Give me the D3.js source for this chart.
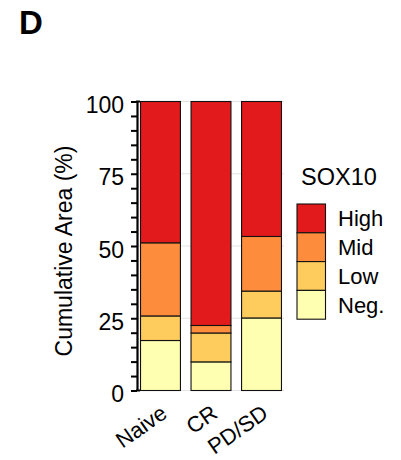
<!DOCTYPE html>
<html>
<head>
<meta charset="utf-8">
<script src="https://cdn.jsdelivr.net/npm/d3@7"></script>
<style>
  html, body { margin: 0; padding: 0; background: #fff; }
  svg text { font-family: "Liberation Sans", Arial, Helvetica, sans-serif; fill: #000; }
</style>
</head>
<body>
<svg id="chart" width="401" height="460"></svg>
<script>
// Groups along the x axis
const groups = ["Naive", "CR", "PD/SD"];
// SOX10 expression classes, bottom to top of each stack
const levels = ["Neg.", "Low", "Mid", "High"];
// Share of area (%) per group for each class
const negValues  = [17.3, 9.9, 25.1];
const lowValues  = [8.5, 10.0, 9.3];
const midValues  = [25.3, 2.6, 18.9];
const highValues = [48.9, 77.5, 46.7];
const yTicks = [0, 25, 50, 75, 100];
const levelColors = ["#FFFFB2", "#FECC5C", "#FD8D3C", "#E31A1C"];

const table = groups.map((g, i) => ({
  group: g,
  "Neg.": negValues[i],
  "Low": lowValues[i],
  "Mid": midValues[i],
  "High": highValues[i]
}));

const svg = d3.select("#chart");

const plot = { left: 137, right: 284, top: 101.5, bottom: 390.5 };

const x = d3.scaleBand()
  .domain(groups)
  .range([plot.left + 1, plot.right])
  .paddingInner(0.21)
  .paddingOuter(0.05);

const y = d3.scaleLinear().domain([0, 100]).range([plot.bottom, plot.top]);

const color = d3.scaleOrdinal().domain(levels).range(levelColors);

// Light horizontal gridlines
svg.append("g")
  .selectAll("line")
  .data(yTicks)
  .join("line")
  .attr("x1", plot.left)
  .attr("x2", plot.right)
  .attr("y1", d => y(d))
  .attr("y2", d => y(d))
  .attr("stroke", "#e3e3e3")
  .attr("stroke-width", 1.2);

// Stacked bars
const series = d3.stack().keys(levels)(table);
svg.append("g")
  .selectAll("g")
  .data(series)
  .join("g")
  .attr("fill", d => color(d.key))
  .selectAll("rect")
  .data(d => d)
  .join("rect")
  .attr("x", d => x(d.data.group))
  .attr("width", x.bandwidth())
  .attr("y", d => y(d[1]))
  .attr("height", d => y(d[0]) - y(d[1]))
  .attr("stroke", "#111")
  .attr("stroke-width", 1.1);

// Y axis: minor ticks every 5 %, labels on the quarters
const yAxis = d3.axisLeft(y)
  .tickValues(d3.range(0, 101, 5))
  .tickSize(6)
  .tickSizeOuter(0)
  .tickFormat(d => yTicks.includes(d) ? d : "");
const gy = svg.append("g")
  .attr("transform", `translate(${plot.left},0)`)
  .call(yAxis);
gy.select(".domain").attr("stroke", "#000").attr("stroke-width", 2.2);
gy.selectAll(".tick line").attr("stroke", "#000").attr("stroke-width", 2);
gy.selectAll(".tick text")
  .attr("x", -13)
  .attr("dy", "0.48em")
  .style("font-size", "23px");
// small end caps of the axis
gy.selectAll(".cap")
  .data([0, 100])
  .join("line")
  .attr("x1", -1)
  .attr("x2", 3)
  .attr("y1", d => y(d))
  .attr("y2", d => y(d))
  .attr("stroke", "#000")
  .attr("stroke-width", 2);

// Y axis title
svg.append("text")
  .attr("transform", `translate(72,${(plot.top + plot.bottom) / 2 + 5}) rotate(-90)`)
  .attr("text-anchor", "middle")
  .style("font-size", "23px")
  .text("Cumulative Area (%)");

// X category labels, slanted
svg.append("g")
  .selectAll("text")
  .data(groups)
  .join("text")
  .attr("transform", d => `translate(${x(d) + x.bandwidth() / 2 + 8},${plot.bottom + 26}) rotate(-35)`)
  .attr("text-anchor", "end")
  .style("font-size", "22px")
  .text(d => d);

// Legend
const legend = svg.append("g").attr("transform", "translate(297,204)");
legend.append("text")
  .attr("x", 4)
  .attr("y", -19)
  .style("font-size", "23.5px")
  .text("SOX10");
const legendOrder = levels.slice().reverse();
const keyH = 28.8;
legend.selectAll("rect")
  .data(legendOrder)
  .join("rect")
  .attr("x", 0)
  .attr("y", (d, i) => i * keyH)
  .attr("width", 28.5)
  .attr("height", keyH)
  .attr("fill", d => color(d))
  .attr("stroke", "#111")
  .attr("stroke-width", 1.1);
legend.selectAll(".lab")
  .data(legendOrder)
  .join("text")
  .attr("class", "lab")
  .attr("x", 41)
  .attr("y", (d, i) => i * keyH + keyH / 2)
  .attr("dy", "0.36em")
  .style("font-size", "22px")
  .text(d => d);

// Panel letter
svg.append("text")
  .attr("x", 19)
  .attr("y", 34)
  .style("font-size", "33px")
  .style("font-weight", "bold")
  .text("D");
</script>
</body>
</html>
